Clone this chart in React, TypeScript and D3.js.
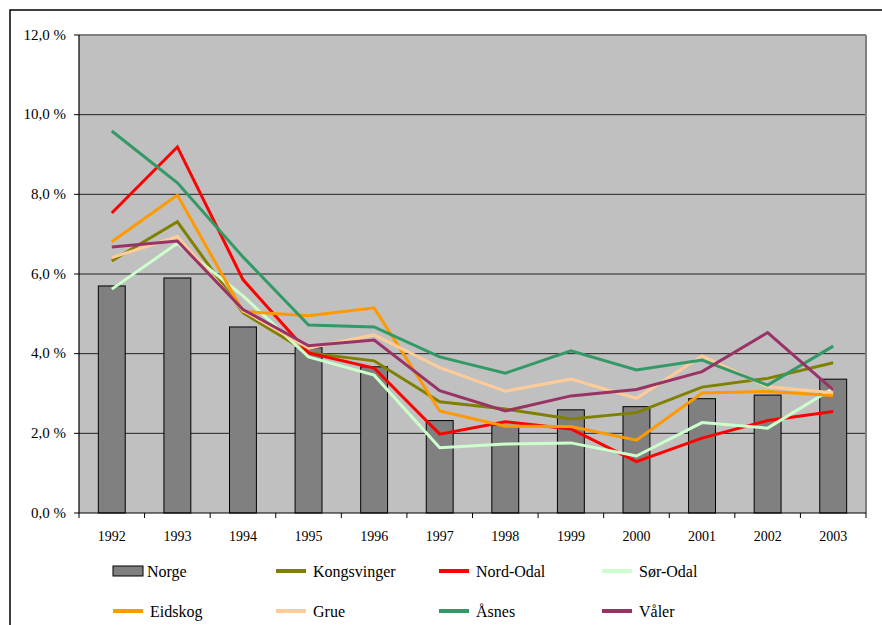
import React from 'react'
import { scaleBand, scaleLinear, line, range } from 'd3'

const years = ['1992', '1993', '1994', '1995', '1996', '1997', '1998', '1999', '2000', '2001', '2002', '2003']
const norge = [5.7, 5.9, 4.67, 4.15, 3.67, 2.32, 2.2, 2.59, 2.67, 2.87, 2.96, 3.36]
const kongsvinger = [6.33, 7.31, 5.03, 4.02, 3.82, 2.79, 2.61, 2.36, 2.52, 3.16, 3.38, 3.77]
const nordOdal = [7.53, 9.19, 5.86, 4.02, 3.64, 1.98, 2.29, 2.11, 1.29, 1.88, 2.32, 2.55]
const sorOdal = [5.62, 6.77, 5.45, 3.92, 3.46, 1.64, 1.73, 1.76, 1.43, 2.27, 2.13, 3.13]
const eidskog = [6.81, 7.98, 5.06, 4.95, 5.15, 2.56, 2.18, 2.17, 1.83, 3.01, 3.05, 2.95]
const grue = [6.41, 6.94, 5.08, 4.14, 4.47, 3.65, 3.06, 3.36, 2.88, 3.94, 3.17, 3.02]
const asnes = [9.59, 8.29, 6.43, 4.72, 4.67, 3.92, 3.51, 4.07, 3.59, 3.84, 3.21, 4.19]
const valer = [6.68, 6.83, 5.11, 4.2, 4.34, 3.07, 2.56, 2.94, 3.1, 3.55, 4.53, 3.09]
const yTicks = [0, 2, 4, 6, 8, 10, 12]

const series = [
  { name: 'Kongsvinger', values: kongsvinger, color: '#808000' },
  { name: 'Nord-Odal', values: nordOdal, color: '#FF0000' },
  { name: 'Sør-Odal', values: sorOdal, color: '#CCFFCC' },
  { name: 'Eidskog', values: eidskog, color: '#FF9900' },
  { name: 'Grue', values: grue, color: '#FFCC99' },
  { name: 'Åsnes', values: asnes, color: '#339966' },
  { name: 'Våler', values: valer, color: '#993366' },
]

const width = 882
const height = 625
const margin = { top: 35, right: 16, bottom: 112, left: 79 }
const innerWidth = width - margin.left - margin.right
const innerHeight = height - margin.top - margin.bottom
const font = 'Liberation Serif'

const fmt = (v: number) => v.toFixed(1).replace('.', ',') + ' %'

export default function App() {
  const x = scaleBand().domain(years).range([0, innerWidth])
  const y = scaleLinear().domain([0, 12]).range([innerHeight, 0])
  const barW = x.bandwidth() * 0.41
  const mid = (yr: string) => (x(yr) as number) + x.bandwidth() / 2
  const path = line<number>()
    .x((_, i) => mid(years[i]))
    .y(d => y(d))

  const legendItems = [{ name: 'Norge', color: '#808080', bar: true }, ...series.map(s => ({ name: s.name, color: s.color, bar: false }))]

  return (
    <div style={{ position: 'absolute', left: 0, top: 0 }}>
      <svg width={width} height={height} style={{ display: 'block' }}>
        <rect x={0} y={0} width={width} height={height} fill="#fff" />
        <rect x={10} y={10} width={width + 20} height={height + 20} fill="none" stroke="#000" strokeWidth={1.5} />
        <g transform={`translate(${margin.left},${margin.top})`}>
          <rect x={0} y={0} width={innerWidth} height={innerHeight} fill="#C0C0C0" />
          {yTicks.slice(1, -1).map(t => (
            <line key={t} x1={0} x2={innerWidth} y1={y(t)} y2={y(t)} stroke="#222" strokeWidth={1} />
          ))}
          <line x1={0} x2={innerWidth} y1={0} y2={0} stroke="#808080" strokeWidth={2} />
          <line x1={innerWidth} x2={innerWidth} y1={0} y2={innerHeight} stroke="#808080" strokeWidth={2} />
          {years.map((yr, i) => (
            <rect key={yr} x={mid(yr) - barW / 2} y={y(norge[i])} width={barW} height={innerHeight - y(norge[i])}
              fill="#808080" stroke="#000" strokeWidth={1} />
          ))}
          {series.map(s => (
            <path key={s.name} d={path(s.values) as string} fill="none" stroke={s.color} strokeWidth={3} strokeLinejoin="miter" />
          ))}
          <line x1={0} x2={0} y1={0} y2={innerHeight} stroke="#000" strokeWidth={1.2} />
          <line x1={0} x2={innerWidth} y1={innerHeight} y2={innerHeight} stroke="#000" strokeWidth={1.2} />
          {yTicks.map(t => (
            <g key={t} transform={`translate(0,${y(t)})`}>
              <line x1={-5} x2={0} stroke="#000" />
              <text x={-13} dy="0.32em" textAnchor="end" fontSize={15} fill="#000" fontFamily={font}>{fmt(t)}</text>
            </g>
          ))}
          {range(years.length + 1).map(i => (
            <line key={i} x1={i * x.step()} x2={i * x.step()} y1={innerHeight} y2={innerHeight + 5} stroke="#000" />
          ))}
          {years.map(yr => (
            <text key={yr} x={mid(yr)} y={innerHeight + 28} textAnchor="middle" fontSize={14} fill="#000" fontFamily={font}>{yr}</text>
          ))}
        </g>
        <g>
          {legendItems.map((it, i) => {
            const col = i % 4
            const row = Math.floor(i / 4)
            const lx = 113 + col * 163
            const ly = 571 + row * 40
            return (
              <g key={it.name} transform={`translate(${lx},${ly})`}>
                {it.bar
                  ? <rect x={0} y={-5} width={30} height={10} fill={it.color} stroke="#000" strokeWidth={1} />
                  : <line x1={0} x2={30} y1={0} y2={0} stroke={it.color} strokeWidth={4} />}
                <text x={it.bar ? 34 : 37} dy="0.35em" fontSize={16} fill="#000" fontFamily={font}>{it.name}</text>
              </g>
            )
          })}
        </g>
      </svg>
    </div>
  )
}
